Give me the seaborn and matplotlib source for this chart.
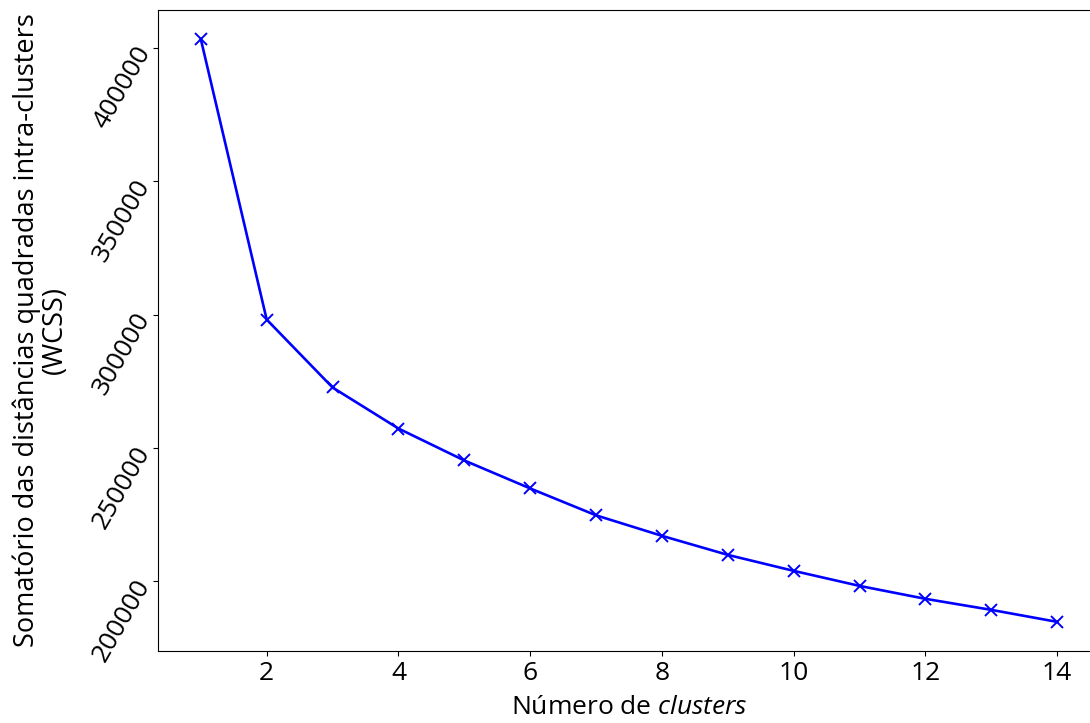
import matplotlib
matplotlib.use("Agg")
import matplotlib.pyplot as plt
import seaborn as sns
import pandas as pd

# Within-cluster sum of squares for each number of clusters (elbow method)
n_clusters = [1, 2, 3, 4, 5, 6, 7, 8, 9, 10, 11, 12, 13, 14]
wcss = [403400, 298100, 272600, 257200, 245200, 234700, 224600,
        216900, 209750, 203750, 198100, 193250, 189100, 184600]

plt.rcParams['font.family'] = ['Open Sans', 'DejaVu Sans']
plt.rcParams['mathtext.fontset'] = 'custom'
plt.rcParams['mathtext.rm'] = 'Open Sans'
plt.rcParams['mathtext.it'] = 'Open Sans:italic'

df = pd.DataFrame({"k": n_clusters, "wcss": wcss})

fig = plt.figure(figsize=(10.9, 7.23), dpi=100)
ax = fig.add_axes([158 / 1090, 72 / 723, 942 / 1090, 641 / 723])

sns.lineplot(data=df, x="k", y="wcss", ax=ax, color="blue", marker="x",
             markersize=8.5, markeredgewidth=1.4, markeredgecolor="blue",
             markerfacecolor="blue", linewidth=1.9)

ax.set_xticks([2, 4, 6, 8, 10, 12, 14])
ax.set_yticks([200000, 250000, 300000, 350000, 400000])
ax.tick_params(axis="both", labelsize=19)
ax.tick_params(axis="y", pad=6)
for lbl in ax.get_yticklabels():
    lbl.set_rotation(60)
    lbl.set_rotation_mode("anchor")
    lbl.set_ha("right")
    lbl.set_va("center")

ax.set_xlabel(r"Número de $\it{clusters}$", fontsize=19, labelpad=7)
ax.set_ylabel("Somatório das distâncias quadradas intra-clusters\n(WCSS)",
              fontsize=19.5, linespacing=1.0, labelpad=14)

fig.savefig("out.png", dpi=100)
